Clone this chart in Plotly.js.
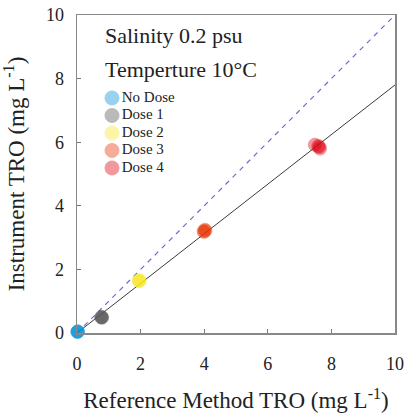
<!DOCTYPE html>
<html>
<head>
<meta charset="utf-8">
<script src="https://cdn.plot.ly/plotly-3.0.1.min.js"></script>
<style>html,body{margin:0;padding:0;background:#fff;}#chart{width:404px;height:415px;}</style>
</head>
<body>
<div id="chart"></div>
<script>
// Series names
const seriesNames = ["No Dose", "Dose 1", "Dose 2", "Dose 3", "Dose 4"];
// Reference method TRO (x) replicates per dose
const refNoDose = [0.02, 0.03, 0.01, 0.02];
const refDose1  = [0.76, 0.78, 0.79, 0.77];
const refDose2  = [1.94, 1.96, 1.97, 1.95];
const refDose3  = [3.98, 4.02, 4.04, 4.00];
const refDose4  = [7.48, 7.59, 7.64, 7.62];
// Instrument TRO (y) replicates per dose
const insNoDose = [0.04, 0.05, 0.03, 0.05];
const insDose1  = [0.49, 0.50, 0.48, 0.50];
const insDose2  = [1.64, 1.66, 1.63, 1.65];
const insDose3  = [3.20, 3.25, 3.22, 3.18];
const insDose4  = [5.92, 5.88, 5.80, 5.85];
// Regression line and 1:1 line
const fitX = [0, 10];
const fitY = [0.0, 7.8];
const oneX = [0, 9.9];
const oneY = [0, 9.9];
// Tick values
const tickVals = [0, 2, 4, 6, 8, 10];
const tickLabels = ["0", "2", "4", "6", "8", "10"];

const colors = ["#0090d8", "#555555", "#fae825", "#e83200", "#dc0010"];
const xs = [refNoDose, refDose1, refDose2, refDose3, refDose4];
const ys = [insNoDose, insDose1, insDose2, insDose3, insDose4];

const serif = '"Liberation Serif", "Times New Roman", serif';

const traces = [
  {x: oneX, y: oneY, mode: "lines", line: {color: "#6b6bdb", width: 1.2, dash: "5px,5px"}, showlegend: false, hoverinfo: "skip"},
  {x: fitX, y: fitY, mode: "lines", line: {color: "#3a3a3a", width: 1}, showlegend: false, hoverinfo: "skip"}
];
seriesNames.forEach((n, i) => {
  traces.push({
    x: xs[i], y: ys[i], name: n, type: "scatter", mode: "markers",
    marker: {size: 13, color: colors[i], opacity: 0.4, line: {color: colors[i], width: 1}},
    cliponaxis: false, showlegend: false
  });
});
// Legend drawn on an overlay axis pair (one row per series)
traces.push({
  x: seriesNames.map(() => 35), y: seriesNames.map((n, i) => i),
  xaxis: "x2", yaxis: "y2", type: "scatter", mode: "markers+text",
  text: seriesNames, textposition: "middle right",
  textfont: {family: serif, size: 15, color: "#222"},
  marker: {size: 14, color: colors, opacity: 0.4, line: {color: colors, width: 1}},
  showlegend: false, hoverinfo: "skip", cliponaxis: false
});

const axisCommon = {
  range: [0, 10], tickvals: tickVals, ticktext: tickLabels,
  ticks: "inside", ticklen: 4, tickwidth: 1, tickcolor: "#777",
  showline: true, linecolor: "#888", linewidth: 1.5, mirror: true,
  showgrid: false, zeroline: false,
  tickfont: {family: serif, size: 18, color: "#222"},
  fixedrange: true
};

const layout = {
  width: 404, height: 415,
  margin: {l: 77, r: 9, t: 15, b: 82},
  paper_bgcolor: "#fff", plot_bgcolor: "#fff",
  font: {family: serif, color: "#222"},
  xaxis: Object.assign({}, axisCommon, {
    ticklabelstandoff: 14,
    title: {text: "Reference Method TRO (mg L<sup>-1</sup>)", font: {family: serif, size: 23, color: "#222"}, standoff: 19}
  }),
  yaxis: Object.assign({}, axisCommon, {
    ticklabelstandoff: 8,
    title: {text: "Instrument TRO (mg L<sup>-1</sup>)", font: {family: serif, size: 23, color: "#222"}, standoff: 16}
  }),
  xaxis2: {overlaying: "x", range: [0, 318], visible: false, fixedrange: true},
  yaxis2: {overlaying: "y", range: [13.43, -4.743], visible: false, fixedrange: true},
  showlegend: false,
  annotations: [
    {xref: "paper", yref: "paper", x: 0.083, y: 0.935, xanchor: "left", yanchor: "middle", showarrow: false,
     text: "Salinity 0.2 psu", font: {family: serif, size: 22, color: "#222"}},
    {xref: "paper", yref: "paper", x: 0.083, y: 0.83, xanchor: "left", yanchor: "middle", showarrow: false,
     text: "Temperture 10°C", font: {family: serif, size: 22, color: "#222"}}
  ]
};

Plotly.newPlot("chart", traces, layout, {displayModeBar: false, staticPlot: true});
</script>
</body>
</html>
